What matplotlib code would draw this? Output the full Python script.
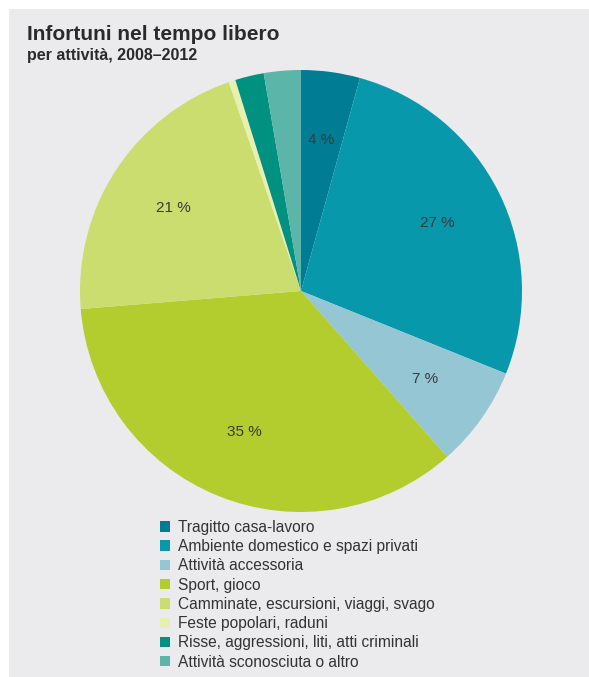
import matplotlib.pyplot as plt
from matplotlib.patches import Rectangle

activities = [
    "Tragitto casa-lavoro",
    "Ambiente domestico e spazi privati",
    "Attività accessoria",
    "Sport, gioco",
    "Camminate, escursioni, viaggi, svago",
    "Feste popolari, raduni",
    "Risse, aggressioni, liti, atti criminali",
    "Attività sconosciuta o altro",
]
shares = [4.3, 26.8, 7.4, 35.2, 21.0, 0.5, 2.1, 2.7]
colors = ["#007d94", "#0898ab", "#94c6d3", "#b3cc2e",
          "#cadd6e", "#e8f0b0", "#009180", "#5bb5a8"]

plt.rcParams['font.family'] = ['Liberation Sans', 'DejaVu Sans']

W, H = 589, 677
fig = plt.figure(figsize=(W / 100, H / 100), dpi=100, facecolor="white")
fig.patches.append(Rectangle((9 / W, 0), 1 - 9 / W, 1 - 9 / H,
                             transform=fig.transFigure, facecolor="#ebebed",
                             edgecolor="none", zorder=-1))

cx, cy, r = 301, 291, 221
ax = fig.add_axes([(cx - r) / W, (H - cy - r) / H, 2 * r / W, 2 * r / H])
ax.set_facecolor("none")


def pct_label(p):
    return f"{p:.0f} %" if p >= 3.5 else ""


wedges, texts, autotexts = ax.pie(
    shares, colors=colors, startangle=90, counterclock=False,
    autopct=pct_label, pctdistance=0.69, radius=1,
    wedgeprops=dict(linewidth=0),
    textprops=dict(fontsize=11, color="#3a3a3a"))
ax.set_xlim(-1, 1)
ax.set_ylim(-1, 1)
ax.set_aspect("auto")
ax.axis("off")

fig.text(27 / W, 1 - 40 / H, "Infortuni nel tempo libero", fontsize=15,
         color="#2a2a2a", fontweight="bold")
fig.text(27 / W, 1 - 60 / H, "per attività, 2008–2012", fontsize=11.5,
         color="#2a2a2a", fontweight="bold")

fig.legend(wedges, activities, loc="upper left",
           bbox_to_anchor=(152 / W, 1 - 512 / H), frameon=False,
           fontsize=11.2, handlelength=0.65, handleheight=0.65,
           handletextpad=0.55, labelspacing=0.275, borderpad=0,
           labelcolor="#333333")

fig.savefig("out.png", dpi=100, facecolor="white")
